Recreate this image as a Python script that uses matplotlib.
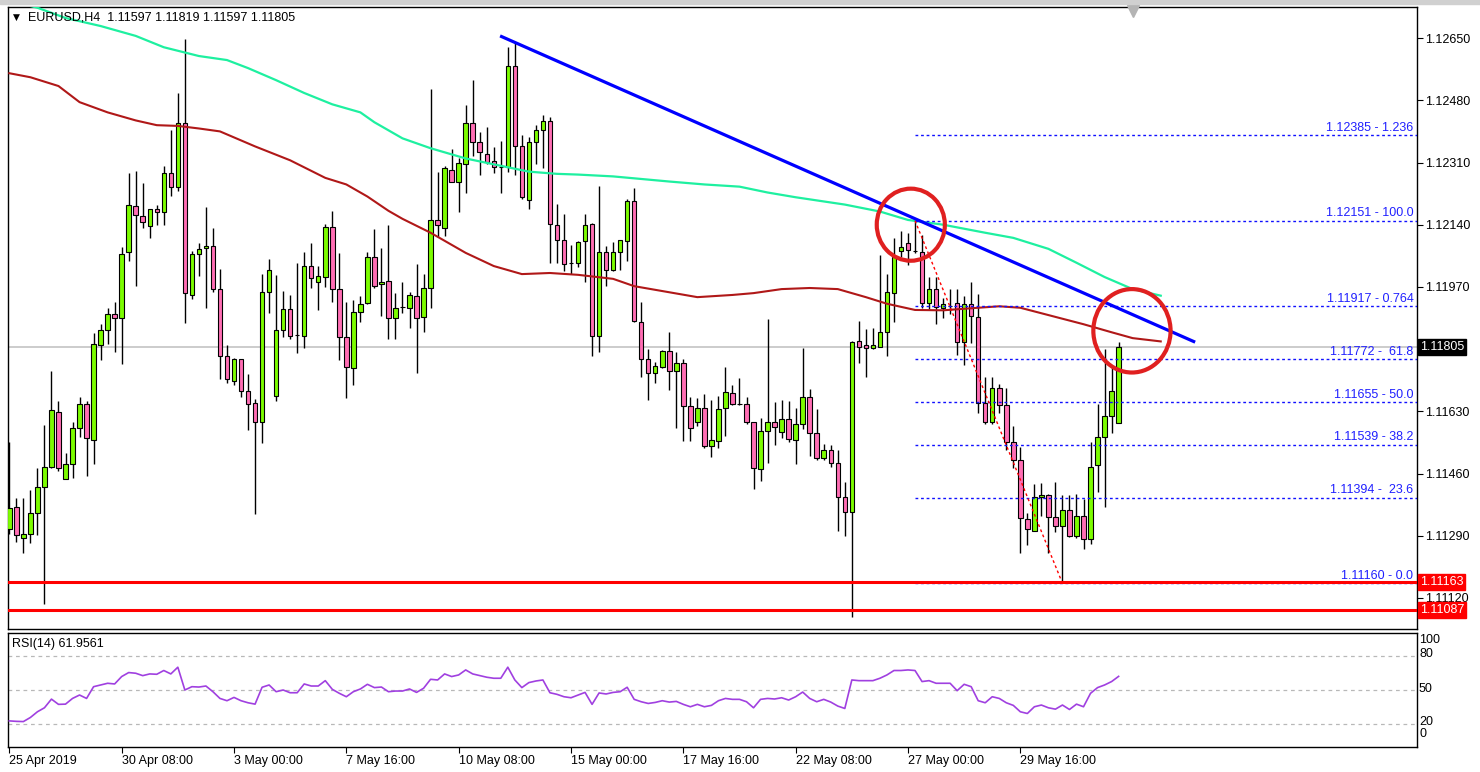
import numpy as np
import matplotlib.pyplot as plt
import matplotlib.transforms as mtransforms
from matplotlib.patches import Rectangle, Ellipse

plt.rcParams['font.family'] = ['Liberation Sans', 'DejaVu Sans']

### EURUSD H4 candles, bar 0 = 25 Apr 16:00
opens = [1.11308, 1.11368, 1.11283, 1.11294, 1.11352, 1.11422, 1.11479, 1.11629, 1.11446, 1.11487,
         1.11583, 1.11651, 1.11552, 1.11810, 1.11852, 1.11895, 1.11885, 1.12065, 1.12191, 1.12165,
         1.12137, 1.12184, 1.12175, 1.12280, 1.12242, 1.12418, 1.11948, 1.12061, 1.12076, 1.12083,
         1.11964, 1.11781, 1.11712, 1.11772, 1.11686, 1.11653, 1.11600, 1.11957, 1.11671, 1.11852,
         1.11909, 1.11838, 1.11835, 1.12027, 1.11983, 1.11997, 1.12134, 1.11964, 1.11832, 1.11748,
         1.11901, 1.11926, 1.12052, 1.11977, 1.11986, 1.11885, 1.11915, 1.11913, 1.11944, 1.11887,
         1.11966, 1.12153, 1.12131, 1.12290, 1.12257, 1.12307, 1.12418, 1.12367, 1.12334, 1.12313,
         1.12297, 1.12299, 1.12574, 1.12354, 1.12208, 1.12365, 1.12398, 1.12423, 1.12140, 1.12098,
         1.12034, 1.12036, 1.12096, 1.12142, 1.11836, 1.12065, 1.12017, 1.12065, 1.12096, 1.12206,
         1.11874, 1.11772, 1.11734, 1.11750, 1.11794, 1.11741, 1.11763, 1.11644, 1.11600, 1.11640,
         1.11536, 1.11550, 1.11638, 1.11679, 1.11649, 1.11649, 1.11600, 1.11472, 1.11577, 1.11602,
         1.11574, 1.11610, 1.11552, 1.11594, 1.11668, 1.11571, 1.11501, 1.11525, 1.11490, 1.11397,
         1.11355, 1.11821, 1.11810, 1.11803, 1.11807, 1.11846, 1.11953, 1.12069, 1.12090, 1.12069,
         1.12066, 1.11926, 1.11964, 1.11912, 1.11918, 1.11926, 1.11819, 1.11924, 1.11887, 1.11653,
         1.11600, 1.11693, 1.11646, 1.11547, 1.11498, 1.11336, 1.11303, 1.11395, 1.11401, 1.11341,
         1.11316, 1.11360, 1.11289, 1.11344, 1.11281, 1.11483, 1.11560, 1.11616, 1.11597]
highs = [1.11547, 1.11393, 1.11393, 1.11415, 1.11476, 1.11593, 1.11741, 1.11659, 1.11516, 1.11600,
         1.11670, 1.11659, 1.11843, 1.11868, 1.11912, 1.11929, 1.12080, 1.12280, 1.12288, 1.12255,
         1.12184, 1.12195, 1.12301, 1.12398, 1.12500, 1.12648, 1.12069, 1.12090, 1.12189, 1.12132,
         1.12019, 1.11810, 1.11775, 1.11774, 1.11731, 1.11664, 1.12006, 1.12047, 1.12003, 1.11959,
         1.11948, 1.12036, 1.12065, 1.12090, 1.12028, 1.12142, 1.12178, 1.12063, 1.11929, 1.11933,
         1.11944, 1.12065, 1.12129, 1.12076, 1.12138, 1.11953, 1.11984, 1.11955, 1.12033, 1.12005,
         1.12510, 1.12285, 1.12301, 1.12346, 1.12321, 1.12467, 1.12535, 1.12392, 1.12407, 1.12352,
         1.12368, 1.12625, 1.12636, 1.12384, 1.12379, 1.12412, 1.12440, 1.12433, 1.12197, 1.12170,
         1.12085, 1.12096, 1.12170, 1.12145, 1.12247, 1.12083, 1.12094, 1.12098, 1.12211, 1.12241,
         1.11928, 1.11800, 1.11764, 1.11797, 1.11846, 1.11792, 1.11774, 1.11670, 1.11666, 1.11677,
         1.11662, 1.11671, 1.11750, 1.11703, 1.11720, 1.11670, 1.11602, 1.11613, 1.11882, 1.11655,
         1.11660, 1.11659, 1.11640, 1.11803, 1.11692, 1.11637, 1.11541, 1.11538, 1.11523, 1.11437,
         1.11821, 1.11876, 1.11854, 1.11857, 1.12058, 1.12006, 1.12105, 1.12123, 1.12118, 1.12151,
         1.12112, 1.11997, 1.11997, 1.11940, 1.11964, 1.11964, 1.11944, 1.11984, 1.11950, 1.11723,
         1.11725, 1.11704, 1.11693, 1.11589, 1.11533, 1.11352, 1.11432, 1.11434, 1.11405, 1.11437,
         1.11402, 1.11402, 1.11404, 1.11391, 1.11545, 1.11651, 1.11800, 1.11752, 1.11819]
lows = [1.11294, 1.11272, 1.11242, 1.11270, 1.11292, 1.11104, 1.11476, 1.11468, 1.11446, 1.11448,
        1.11560, 1.11454, 1.11487, 1.11769, 1.11813, 1.11791, 1.11758, 1.12041, 1.11973, 1.12131,
        1.12103, 1.12138, 1.12140, 1.12219, 1.12231, 1.11871, 1.11937, 1.11999, 1.11912, 1.11955,
        1.11717, 1.11706, 1.11701, 1.11668, 1.11580, 1.11349, 1.11544, 1.11898, 1.11657, 1.11832,
        1.11827, 1.11789, 1.11802, 1.11968, 1.11906, 1.11970, 1.11929, 1.11770, 1.11666, 1.11703,
        1.11873, 1.11924, 1.11966, 1.11891, 1.11827, 1.11827, 1.11898, 1.11857, 1.11734, 1.11846,
        1.11913, 1.12107, 1.12110, 1.12257, 1.12176, 1.12228, 1.12329, 1.12277, 1.12307, 1.12280,
        1.12228, 1.12283, 1.12275, 1.12211, 1.12184, 1.12305, 1.12294, 1.12036, 1.12036, 1.12014,
        1.12005, 1.12025, 1.11983, 1.11781, 1.11791, 1.11973, 1.12014, 1.12017, 1.12041, 1.11873,
        1.11723, 1.11662, 1.11706, 1.11747, 1.11688, 1.11583, 1.11550, 1.11550, 1.11589, 1.11530,
        1.11505, 1.11530, 1.11563, 1.11646, 1.11646, 1.11596, 1.11419, 1.11439, 1.11489, 1.11538,
        1.11558, 1.11547, 1.11487, 1.11582, 1.11509, 1.11498, 1.11498, 1.11479, 1.11303, 1.11289,
        1.11069, 1.11761, 1.11723, 1.11800, 1.11805, 1.11781, 1.11874, 1.12052, 1.12030, 1.12063,
        1.11912, 1.11909, 1.11868, 1.11884, 1.11896, 1.11783, 1.11756, 1.11816, 1.11624, 1.11594,
        1.11596, 1.11624, 1.11525, 1.11476, 1.11242, 1.11264, 1.11303, 1.11344, 1.11243, 1.11300,
        1.11160, 1.11287, 1.11283, 1.11253, 1.11267, 1.11410, 1.11368, 1.11571, 1.11597]
closes = [1.11366, 1.11292, 1.11294, 1.11352, 1.11422, 1.11479, 1.11633, 1.11476, 1.11487, 1.11583,
          1.11651, 1.11556, 1.11813, 1.11852, 1.11895, 1.11885, 1.12060, 1.12194, 1.12167, 1.12148,
          1.12182, 1.12175, 1.12280, 1.12242, 1.12418, 1.11953, 1.12060, 1.12074, 1.12083, 1.11964,
          1.11780, 1.11719, 1.11772, 1.11686, 1.11651, 1.11600, 1.11955, 1.12016, 1.11852, 1.11909,
          1.11836, 1.11838, 1.12028, 1.11994, 1.11999, 1.12134, 1.11964, 1.11832, 1.11750, 1.11901,
          1.11924, 1.12052, 1.11973, 1.11984, 1.11885, 1.11913, 1.11915, 1.11948, 1.11885, 1.11966,
          1.12153, 1.12138, 1.12294, 1.12257, 1.12309, 1.12419, 1.12367, 1.12340, 1.12312, 1.12297,
          1.12297, 1.12574, 1.12354, 1.12215, 1.12365, 1.12398, 1.12423, 1.12142, 1.12098, 1.12033,
          1.12034, 1.12094, 1.12140, 1.11836, 1.12065, 1.12017, 1.12065, 1.12098, 1.12206, 1.11876,
          1.11774, 1.11734, 1.11753, 1.11794, 1.11741, 1.11763, 1.11644, 1.11583, 1.11638, 1.11536,
          1.11552, 1.11635, 1.11682, 1.11651, 1.11649, 1.11600, 1.11476, 1.11577, 1.11600, 1.11588,
          1.11610, 1.11555, 1.11596, 1.11668, 1.11571, 1.11501, 1.11525, 1.11490, 1.11397, 1.11355,
          1.11819, 1.11807, 1.11803, 1.11810, 1.11847, 1.11957, 1.12052, 1.12080, 1.12072, 1.12069,
          1.11926, 1.11964, 1.11915, 1.11922, 1.11918, 1.11819, 1.11924, 1.11891, 1.11653, 1.11602,
          1.11695, 1.11648, 1.11547, 1.11498, 1.11338, 1.11308, 1.11395, 1.11401, 1.11342, 1.11316,
          1.11360, 1.11289, 1.11344, 1.11281, 1.11479, 1.11560, 1.11616, 1.11686, 1.11805]

rsi = [22.9, 22.5, 22.3, 25.9, 30.9, 34.4, 42.0, 37.4, 37.6, 42.6,
       45.6, 42.6, 52.9, 54.4, 55.9, 55.3, 61.8, 65.3, 64.7, 62.6,
       64.1, 63.8, 67.1, 64.1, 70.0, 50.0, 52.9, 52.6, 53.5, 48.5,
       42.6, 40.6, 43.5, 40.6, 38.8, 37.6, 52.4, 54.4, 48.5, 50.0,
       47.6, 47.6, 55.3, 53.5, 53.5, 58.2, 50.6, 47.1, 44.1, 48.5,
       50.9, 55.0, 52.1, 52.6, 48.5, 49.1, 49.1, 50.9, 47.9, 51.5,
       59.4, 58.8, 64.1, 61.8, 63.2, 67.6, 64.1, 62.6, 61.2, 60.3,
       60.3, 70.0, 58.8, 52.1, 56.5, 57.9, 58.8, 47.6, 46.2, 44.1,
       43.2, 45.6, 47.9, 37.4, 47.4, 46.5, 47.9, 48.5, 52.4, 41.8,
       39.7, 38.2, 39.1, 40.6, 39.4, 40.0, 37.4, 35.3, 37.4, 35.3,
       36.5, 40.6, 42.6, 41.8, 41.8, 39.7, 34.4, 41.8, 42.6, 42.1,
       43.2, 41.2, 44.1, 48.2, 42.6, 39.7, 41.8, 39.4, 35.9, 33.8,
       58.8, 58.2, 58.2, 58.2, 60.3, 63.2, 67.1, 67.1, 67.6, 67.1,
       57.4, 58.2, 55.9, 55.9, 55.9, 49.4, 55.0, 52.9, 40.6, 38.8,
       44.1, 42.6, 38.8, 36.5, 30.9, 29.4, 35.3, 36.8, 34.4, 33.2,
       36.8, 32.9, 37.6, 35.3, 47.1, 52.1, 54.4, 57.4, 61.9561]

# moving averages (shifted forward)
ma_slow_x = [0, 4, 8, 13, 18, 22, 27, 31, 34, 38, 42, 46, 50, 52, 56, 60, 65, 69, 74,
             78, 81, 86, 94, 99, 104, 108, 112, 119, 124, 128, 133, 139, 143, 148, 152,
             156, 160, 164]
ma_slow_y = [1.12752, 1.12733, 1.12705, 1.12683, 1.12656, 1.12625, 1.12601, 1.12590, 1.12568,
             1.12535, 1.12500, 1.12469, 1.12447, 1.12420, 1.12376, 1.12349, 1.12321, 1.12305,
             1.12285, 1.12279, 1.12277, 1.12272, 1.12258, 1.12250, 1.12244, 1.12228, 1.12215,
             1.12195, 1.12176, 1.12153, 1.12140, 1.12118, 1.12104, 1.12074, 1.12036, 1.11997,
             1.11964, 1.11946]
ma_fast_x = [0, 3, 7, 10, 14, 18, 21, 24, 27, 30, 35, 40, 45, 48, 51, 54, 56, 60, 65, 69,
             73, 77, 81, 86, 89, 92, 98, 103, 106, 110, 114, 118, 122, 125, 129, 133, 138,
             141, 144, 148, 153, 157, 160, 164]
ma_fast_y = [1.12554, 1.12543, 1.12519, 1.12475, 1.12447, 1.12425, 1.12412, 1.12410, 1.12403,
             1.12395, 1.12354, 1.12316, 1.12268, 1.12250, 1.12217, 1.12178, 1.12156, 1.12118,
             1.12063, 1.12027, 1.12005, 1.12008, 1.12003, 1.11992, 1.11972, 1.11962, 1.11942,
             1.11948, 1.11953, 1.11964, 1.11967, 1.11964, 1.11942, 1.11924, 1.11907, 1.11906,
             1.11913, 1.11917, 1.11913, 1.11893, 1.11868, 1.11846, 1.11830, 1.11821]

trend_x = [69.9, 168.9]
trend_y = [1.12656, 1.11819]

fib_hi_bar, fib_lo_bar = 129, 150
fib_levels = [1.12385, 1.12151, 1.11917, 1.11772, 1.11655, 1.11539, 1.11394, 1.11160]
fib_labels = ["1.12385 - 1.236", "1.12151 - 100.0", "1.11917 - 0.764", "1.11772 -  61.8",
              "1.11655 - 50.0", "1.11539 - 38.2", "1.11394 -  23.6", "1.11160 - 0.0"]
support = [1.11163, 1.11087]
last_price = 1.11805

price_ticks = [1.12650, 1.12480, 1.12310, 1.12140, 1.11970, 1.11630, 1.11460, 1.11290, 1.11120]
time_ticks = [0, 16, 32, 48, 64, 80, 96, 112, 128, 144]
time_labels = ["25 Apr 2019", "30 Apr 08:00", "3 May 00:00", "7 May 16:00", "10 May 08:00",
               "15 May 00:00", "17 May 16:00", "22 May 08:00", "27 May 00:00", "29 May 16:00"]

FS = 9

### layout (pixel based)
W, H = 1480, 772
fig = plt.figure(figsize=(W / 100, H / 100), dpi=100)

def frac(l, t, r, b):
    return [l / W, 1 - b / H, (r - l) / W, (b - t) / H]

ax = fig.add_axes(frac(8, 7, 1417, 629))
ax2 = fig.add_axes(frac(8, 633, 1417, 747))
xmin, xmax = -0.19, 200.5
for a in (ax, ax2):
    a.set_xlim(xmin, xmax)
    for s in a.spines.values():
        s.set_color("black")
        s.set_linewidth(1)
ax.set_ylim(1.11035, 1.12735)
ax2.set_ylim(0, 100)

fig.patches.append(Rectangle((0, 1 - 4 / H), 1, 4 / H, transform=fig.transFigure,
                             color="#d0d0d0", zorder=0))

### candles
n = len(opens)
ax.axhline(last_price, color="#c8c8c8", lw=1.3, zorder=1)
for i in range(n):
    o, h, l, c = opens[i], highs[i], lows[i], closes[i]
    ax.vlines(i, l, h, color="black", lw=1, zorder=2)
    if c > o:
        fc = "#7cfc00"
    elif c < o:
        fc = "#ff6eb4"
    else:
        fc = "black"
    ax.add_patch(Rectangle((i - 0.32, min(o, c)), 0.64, abs(c - o), facecolor=fc,
                           edgecolor="black", lw=0.8, zorder=3))

### overlays
ax.plot(ma_slow_x, ma_slow_y, color="#1ef0a0", lw=1.6, zorder=4)
ax.plot(ma_fast_x, ma_fast_y, color="#b01818", lw=1.5, zorder=4)

ax.hlines(fib_levels, fib_hi_bar, xmax, colors="#1010ff", linestyles=(0, (2, 2)), lw=1, zorder=4)
for lev, lab in zip(fib_levels, fib_labels):
    ax.text(xmax - 0.5, lev + 0.00004, lab, ha="right", va="bottom", color="#2020ff",
            fontsize=FS, zorder=5)
ax.plot([fib_hi_bar, fib_lo_bar], [highs[fib_hi_bar], lows[fib_lo_bar]], color="red",
        ls=(0, (2, 2)), lw=1, zorder=4)

for s in support:
    ax.axhline(s, color="#ff0000", lw=2.2, zorder=5)

ax.plot(trend_x, trend_y, color="#0000ff", lw=2.3, zorder=6, solid_capstyle="butt")

ax.add_patch(Ellipse((128.4, 1.12140), 9.7, 0.00197, fill=False, edgecolor="#e02020",
                     lw=3, zorder=7))
ax.add_patch(Ellipse((159.9, 1.11850), 11.0, 0.00228, fill=False, edgecolor="#e02020",
                     lw=3, zorder=7))

# chart shift marker
ax.plot([0.7984], [0.9936], marker="v", color="#b4b4b4", ms=8, transform=ax.transAxes,
        clip_on=False, zorder=8)

### price scale
ax.set_xticks([])
ax.yaxis.tick_right()
ax.set_yticks(price_ticks)
ax.set_yticklabels([f"{v:.5f}" for v in price_ticks])
ax.tick_params(axis="y", direction="out", length=4, width=0.8, labelsize=FS, pad=2)

trans = mtransforms.blended_transform_factory(ax.transAxes, ax.transData)
dx = 3 / 1409
ax.text(1 + dx, last_price, f"{last_price:.5f}", transform=trans, ha="left", va="center",
        color="white", fontsize=FS, clip_on=False,
        bbox=dict(boxstyle="square,pad=0.15", fc="black", ec="black"))
for s in support:
    ax.text(1 + dx, s, f"{s:.5f}", transform=trans, ha="left", va="center", color="white",
            fontsize=FS, clip_on=False,
            bbox=dict(boxstyle="square,pad=0.15", fc="#ff0000", ec="#ff0000"))

fig.text(13 / W, 1 - 17 / H, "\u25bc", fontsize=6.5, va="center", ha="left",
         family=["DejaVu Sans"])
fig.text(28 / W, 1 - 18 / H,
         f"EURUSD,H4  {opens[-1]:.5f} {highs[-1]:.5f} {lows[-1]:.5f} {closes[-1]:.5f}",
         fontsize=FS, va="center", ha="left")

### RSI panel
for lv in (80, 50, 20):
    ax2.axhline(lv, color="#b8b8b8", ls=(0, (3, 3)), lw=0.9, zorder=1)
ax2.plot(range(n), rsi, color="#a040e0", lw=1.2, zorder=3)
ax2.text(4 / 1409, 0.9, f"RSI(14) {rsi[-1]:.4f}", transform=ax2.transAxes, fontsize=FS,
         va="center", ha="left")

ax2.set_yticks([])
trans2 = mtransforms.blended_transform_factory(ax2.transAxes, ax2.transData)
for lab, yv in [("100", 94.0), ("80", 82.0), ("50", 51.0), ("20", 22.0), ("0", 11.0)]:
    ax2.text(1 + 2 / 1409, yv, lab, transform=trans2, ha="left", va="center", fontsize=FS,
             clip_on=False)

ax2.set_xticks(time_ticks)
ax2.set_xticklabels(time_labels)
ax2.tick_params(axis="x", direction="out", length=4, width=0.8, labelsize=FS, pad=2)
for t in ax2.get_xticklabels():
    t.set_horizontalalignment("left")

fig.savefig("out.png", dpi=100)
